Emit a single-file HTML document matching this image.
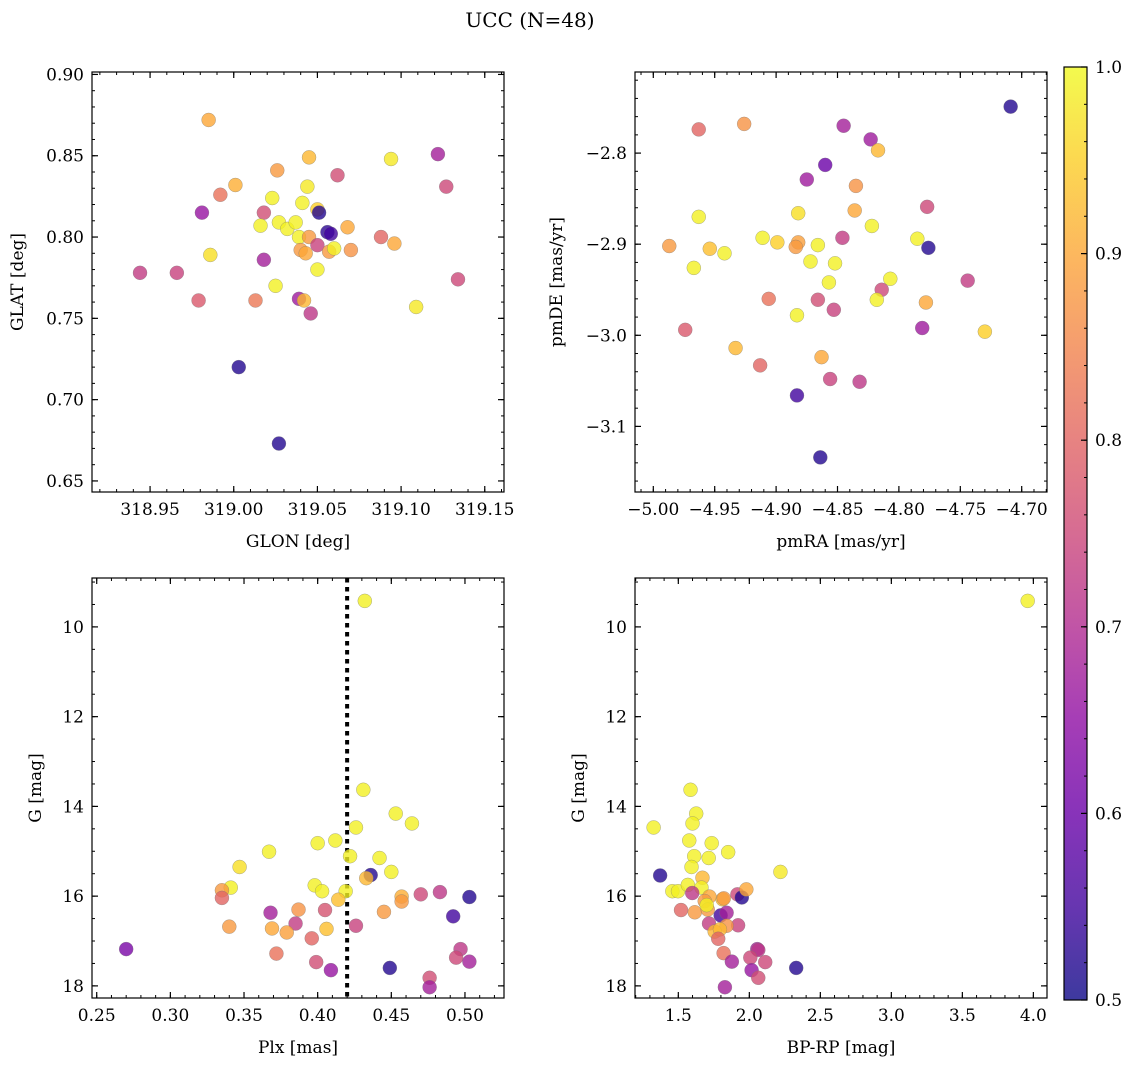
<!DOCTYPE html>
<html><head><meta charset="utf-8">
<style>
body{margin:0;background:#fff;}
svg{display:block;font-family:"DejaVu Serif","Liberation Serif",serif;}
</style></head>
<body>
<svg id="fig" width="1136" height="1067" viewBox="0 0 1136 1067" xmlns="http://www.w3.org/2000/svg">
<defs>
<linearGradient id="plasma" x1="0" y1="1" x2="0" y2="0">
<stop offset="0" stop-color="#0d0887"/><stop offset="0.1" stop-color="#41049d"/><stop offset="0.2" stop-color="#6a00a8"/><stop offset="0.3" stop-color="#8f0da4"/><stop offset="0.4" stop-color="#b12a90"/><stop offset="0.5" stop-color="#cc4778"/><stop offset="0.6" stop-color="#e16462"/><stop offset="0.7" stop-color="#f2844b"/><stop offset="0.8" stop-color="#fca636"/><stop offset="0.9" stop-color="#fcce25"/><stop offset="1" stop-color="#f0f921"/>
</linearGradient>
</defs>
<text x="530" y="27" font-size="20" text-anchor="middle">UCC (N=48)</text>
</svg>
<script>
// Panel 1: GLON vs GLAT
const glon=[318.985,319.045,319.094,319.122,319.026,319.062,319.001,318.992,319.044,319.127,319.023,319.041,318.981,319.018,319.050,319.051,319.016,319.027,319.032,319.037,319.068,319.056,319.058,319.039,319.045,319.050,319.040,319.043,319.057,319.060,319.070,319.088,319.096,318.986,319.018,318.944,318.966,319.050,319.134,319.025,318.979,319.013,319.039,319.042,319.046,319.109,319.003,319.027];
const glat=[0.872,0.849,0.848,0.851,0.841,0.838,0.832,0.826,0.831,0.831,0.824,0.821,0.815,0.815,0.817,0.815,0.807,0.809,0.805,0.809,0.806,0.803,0.802,0.800,0.800,0.795,0.792,0.790,0.791,0.793,0.792,0.800,0.796,0.789,0.786,0.778,0.778,0.780,0.774,0.770,0.761,0.761,0.762,0.761,0.753,0.757,0.720,0.673];
const c1=[0.9,0.92,0.98,0.68,0.88,0.76,0.91,0.82,0.98,0.75,0.99,0.99,0.66,0.76,0.95,0.52,0.99,0.99,0.99,0.99,0.9,0.53,0.55,0.99,0.88,0.74,0.88,0.9,0.88,0.99,0.87,0.8,0.9,0.97,0.68,0.73,0.74,0.99,0.75,0.99,0.78,0.83,0.67,0.92,0.72,0.98,0.52,0.52];
// Panel 2: pmRA vs pmDE
const pmra=[-4.709,-4.963,-4.926,-4.845,-4.823,-4.817,-4.860,-4.875,-4.835,-4.777,-4.963,-4.882,-4.836,-4.822,-4.987,-4.911,-4.899,-4.882,-4.884,-4.866,-4.846,-4.785,-4.776,-4.954,-4.942,-4.967,-4.872,-4.852,-4.857,-4.807,-4.814,-4.744,-4.906,-4.866,-4.818,-4.778,-4.853,-4.883,-4.974,-4.781,-4.730,-4.933,-4.863,-4.913,-4.856,-4.832,-4.883,-4.864];
const pmde=[-2.749,-2.774,-2.768,-2.770,-2.785,-2.797,-2.813,-2.829,-2.836,-2.859,-2.870,-2.866,-2.863,-2.880,-2.902,-2.893,-2.898,-2.898,-2.903,-2.901,-2.893,-2.894,-2.904,-2.905,-2.910,-2.926,-2.919,-2.921,-2.942,-2.938,-2.950,-2.940,-2.960,-2.961,-2.961,-2.964,-2.972,-2.978,-2.994,-2.992,-2.996,-3.014,-3.024,-3.033,-3.048,-3.051,-3.066,-3.134];
const c2=[0.52,0.8,0.87,0.68,0.67,0.92,0.6,0.67,0.87,0.75,0.99,0.97,0.9,0.99,0.88,0.99,0.95,0.89,0.88,0.99,0.73,0.99,0.52,0.93,0.99,0.99,0.99,0.99,0.99,0.99,0.75,0.73,0.82,0.76,0.99,0.9,0.74,0.99,0.78,0.67,0.95,0.92,0.9,0.8,0.74,0.72,0.55,0.52];
// Panel 3: Plx vs G
const plx=[0.431,0.453,0.464,0.426,0.400,0.412,0.367,0.422,0.442,0.347,0.450,0.436,0.433,0.341,0.335,0.335,0.398,0.403,0.419,0.414,0.457,0.457,0.470,0.483,0.503,0.368,0.387,0.405,0.445,0.492,0.340,0.369,0.385,0.379,0.406,0.426,0.396,0.270,0.497,0.494,0.503,0.372,0.399,0.409,0.449,0.476,0.476,0.432];
const g3=[13.63,14.16,14.38,14.47,14.82,14.76,15.01,15.11,15.15,15.35,15.46,15.53,15.60,15.81,15.87,16.04,15.76,15.89,15.89,16.08,16.01,16.12,15.96,15.91,16.02,16.37,16.30,16.31,16.35,16.45,16.68,16.72,16.61,16.81,16.73,16.66,16.94,17.18,17.18,17.37,17.46,17.28,17.47,17.65,17.60,17.82,18.03,9.42];
const c3=[0.99,0.99,0.99,0.99,0.99,0.99,0.99,0.99,0.99,0.97,0.99,0.52,0.92,0.99,0.88,0.8,0.99,0.99,0.99,0.93,0.91,0.88,0.75,0.72,0.52,0.68,0.87,0.77,0.88,0.55,0.88,0.9,0.73,0.89,0.93,0.74,0.8,0.62,0.72,0.75,0.68,0.82,0.76,0.66,0.52,0.76,0.68,0.99];
const plxLine=0.42;
// Panel 4: BP-RP vs G
const bprp=[1.586,1.626,1.600,1.326,1.577,1.735,1.851,1.612,1.714,1.593,2.219,1.372,1.670,1.458,1.498,1.567,1.663,1.598,1.916,1.947,1.979,1.812,1.719,1.686,1.519,1.616,1.707,1.798,1.840,1.716,1.921,1.840,1.756,1.793,1.781,1.819,2.056,2.063,2.007,2.112,1.877,2.016,2.063,1.828,2.33,3.96,1.82,1.70];
const g4=[13.63,14.16,14.38,14.47,14.76,14.82,15.02,15.11,15.15,15.35,15.46,15.54,15.59,15.89,15.89,15.75,15.81,15.93,15.96,16.03,15.85,16.07,16.01,16.11,16.31,16.36,16.30,16.43,16.37,16.61,16.65,16.66,16.79,16.74,16.95,17.27,17.18,17.20,17.37,17.47,17.46,17.65,17.82,18.03,17.60,9.42,16.05,16.20];
const c4=[0.99,0.99,0.99,0.99,0.99,0.99,0.99,0.99,0.99,0.99,0.98,0.52,0.92,0.99,0.99,0.99,0.99,0.72,0.75,0.52,0.9,0.93,0.9,0.88,0.8,0.88,0.88,0.55,0.68,0.73,0.74,0.87,0.92,0.92,0.8,0.82,0.68,0.72,0.75,0.75,0.68,0.66,0.76,0.68,0.52,0.99,0.88,0.99];
const cbTicks=[0.5,0.6,0.7,0.8,0.9,1.0];

const NS="http://www.w3.org/2000/svg";
const svg=document.getElementById('fig');
function mk(tag,attrs,parent){const e=document.createElementNS(NS,tag);for(const k in attrs)e.setAttribute(k,attrs[k]);(parent||svg).appendChild(e);return e;}
const stops=[[13,8,135],[65,4,157],[106,0,168],[143,13,164],[177,42,144],[204,71,120],[225,100,98],[242,132,75],[252,166,54],[252,206,37],[240,249,33]];
function plasma(v){let t=(v-0.5)/0.5;t=Math.max(0,Math.min(1,t))*10;const i=Math.min(9,Math.floor(t)),f=t-i;const a=stops[i],b=stops[i+1];return 'rgb('+a.map((x,k)=>Math.round(x+(b[k]-x)*f)).join(',')+')';}
function fmt(v,d){return (v<0?'\u2212':'')+Math.abs(v).toFixed(d);}
const TF=17;

function panel(o){
  const {L,T,W,H,xmin,xmax,ymin,ymax,invert}=o;
  const sx=v=>L+(v-xmin)/(xmax-xmin)*W;
  const sy=invert?(v=>T+(v-ymin)/(ymax-ymin)*H):(v=>T+H-(v-ymin)/(ymax-ymin)*H);
  const g=mk('g',{});
  
  
  const eps=1e-9;
  for(let v=Math.ceil(xmin/o.xminor-eps)*o.xminor;v<=xmax+eps;v+=o.xminor){const x=sx(v);mk('line',{x1:x,x2:x,y1:T+H,y2:T+H-3,stroke:'#000','stroke-width':1},g);mk('line',{x1:x,x2:x,y1:T,y2:T+3,stroke:'#000','stroke-width':1},g);}
  for(let v=Math.ceil(ymin/o.yminor-eps)*o.yminor;v<=ymax+eps;v+=o.yminor){const y=sy(v);mk('line',{x1:L,x2:L+3,y1:y,y2:y,stroke:'#000','stroke-width':1},g);mk('line',{x1:L+W,x2:L+W-3,y1:y,y2:y,stroke:'#000','stroke-width':1},g);}
  o.xticks.forEach(v=>{const x=sx(v);mk('line',{x1:x,x2:x,y1:T+H,y2:T+H-6,stroke:'#000','stroke-width':1.2},g);mk('line',{x1:x,x2:x,y1:T,y2:T+6,stroke:'#000','stroke-width':1.2},g);
    const t=mk('text',{x:x,y:T+H+23,'font-size':TF,'text-anchor':'middle'},g);t.textContent=fmt(v,o.xd);
    
    });
  o.yticks.forEach(v=>{const y=sy(v);mk('line',{x1:L,x2:L+6,y1:y,y2:y,stroke:'#000','stroke-width':1.2},g);mk('line',{x1:L+W,x2:L+W-6,y1:y,y2:y,stroke:'#000','stroke-width':1.2},g);
    const t=mk('text',{x:L-8,y:y+6,'font-size':TF,'text-anchor':'end'},g);t.textContent=o.yd===0?String(v):fmt(v,o.yd);
    
    });
  if(o.vline!==undefined){const x=sx(o.vline);const ln=mk('line',{x1:x,x2:x,y1:T,y2:T+H,stroke:'#000','stroke-width':4,'stroke-dasharray':'4.5 4.5'},g);
    
    }
  o.xs.forEach((xv,i)=>{const c=mk('circle',{cx:sx(xv),cy:sy(o.ys[i]),r:7,fill:plasma(o.cs[i]),'fill-opacity':0.8,stroke:'#777','stroke-width':0.5,'stroke-opacity':0.6},g);
    
    });
  const fr=mk('rect',{x:L,y:T,width:W,height:H,fill:'none',stroke:'#000','stroke-width':1.2},g);
  
  
  const xl=mk('text',{x:L+W/2,y:T+H+55,'font-size':17,'text-anchor':'middle'},g);xl.textContent=o.xlabel;
  
  
  const yl=mk('text',{x:0,y:0,'font-size':17,'text-anchor':'middle',transform:`translate(${o.ylx},${T+H/2}) rotate(-90)`},g);yl.textContent=o.ylabel;
  
  
}
panel({name:'glon-glat-panel',L:92,T:72,W:412,H:420,xmin:318.9153,xmax:319.1615,ymin:0.6432,ymax:0.9015,xticks:[318.95,319.0,319.05,319.1,319.15],xd:2,yticks:[0.65,0.7,0.75,0.8,0.85,0.9],yd:2,xminor:0.01,yminor:0.01,xs:glon,ys:glat,cs:c1,xlabel:'GLON [deg]',ylabel:'GLAT [deg]',ylx:23});
panel({name:'proper-motion-panel',L:635,T:72,W:412,H:420,xmin:-5.0149,xmax:-4.6794,ymin:-3.172,ymax:-2.711,xticks:[-5.0,-4.95,-4.9,-4.85,-4.8,-4.75,-4.7],xd:2,yticks:[-3.1,-3.0,-2.9,-2.8],yd:1,xminor:0.01,yminor:0.02,xs:pmra,ys:pmde,cs:c2,xlabel:'pmRA [mas/yr]',ylabel:'pmDE [mas/yr]',ylx:562});
panel({name:'parallax-magnitude-panel',L:92,T:578,W:412,H:420,xmin:0.2468,xmax:0.5265,ymin:8.91,ymax:18.27,invert:true,xticks:[0.25,0.3,0.35,0.4,0.45,0.5],xd:2,yticks:[10,12,14,16,18],yd:0,xminor:0.01,yminor:0.5,xs:plx,ys:g3,cs:c3,vline:plxLine,xlabel:'Plx [mas]',ylabel:'G [mag]',ylx:41});
panel({name:'color-magnitude-panel',L:635,T:578,W:412,H:420,xmin:1.195,xmax:4.096,ymin:8.91,ymax:18.27,invert:true,xticks:[1.5,2.0,2.5,3.0,3.5,4.0],xd:1,yticks:[10,12,14,16,18],yd:0,xminor:0.1,yminor:0.5,xs:bprp,ys:g4,cs:c4,xlabel:'BP-RP [mag]',ylabel:'G [mag]',ylx:584});

const cb=mk('g',{});


const CT=67,CB=1000,CL=1064,CW=23;
const cy=v=>CB-(v-0.5)/0.5*(CB-CT);
mk('rect',{x:CL,y:CT,width:CW,height:CB-CT,fill:'url(#plasma)','fill-opacity':0.8},cb);
for(let v=0.5;v<=1.0001;v+=0.02){const y=cy(v);mk('line',{x1:CL+CW,x2:CL+CW-3,y1:y,y2:y,stroke:'#000','stroke-width':1},cb);}
cbTicks.forEach(v=>{const y=cy(v);mk('line',{x1:CL+CW,x2:CL+CW-6,y1:y,y2:y,stroke:'#000','stroke-width':1.2},cb);
  const t=mk('text',{x:CL+CW+8,y:y+6,'font-size':TF},cb);t.textContent=v.toFixed(1);
  
  });
mk('rect',{x:CL,y:CT,width:CW,height:CB-CT,fill:'none',stroke:'#000','stroke-width':1.2},cb);
</script>
</body></html>
